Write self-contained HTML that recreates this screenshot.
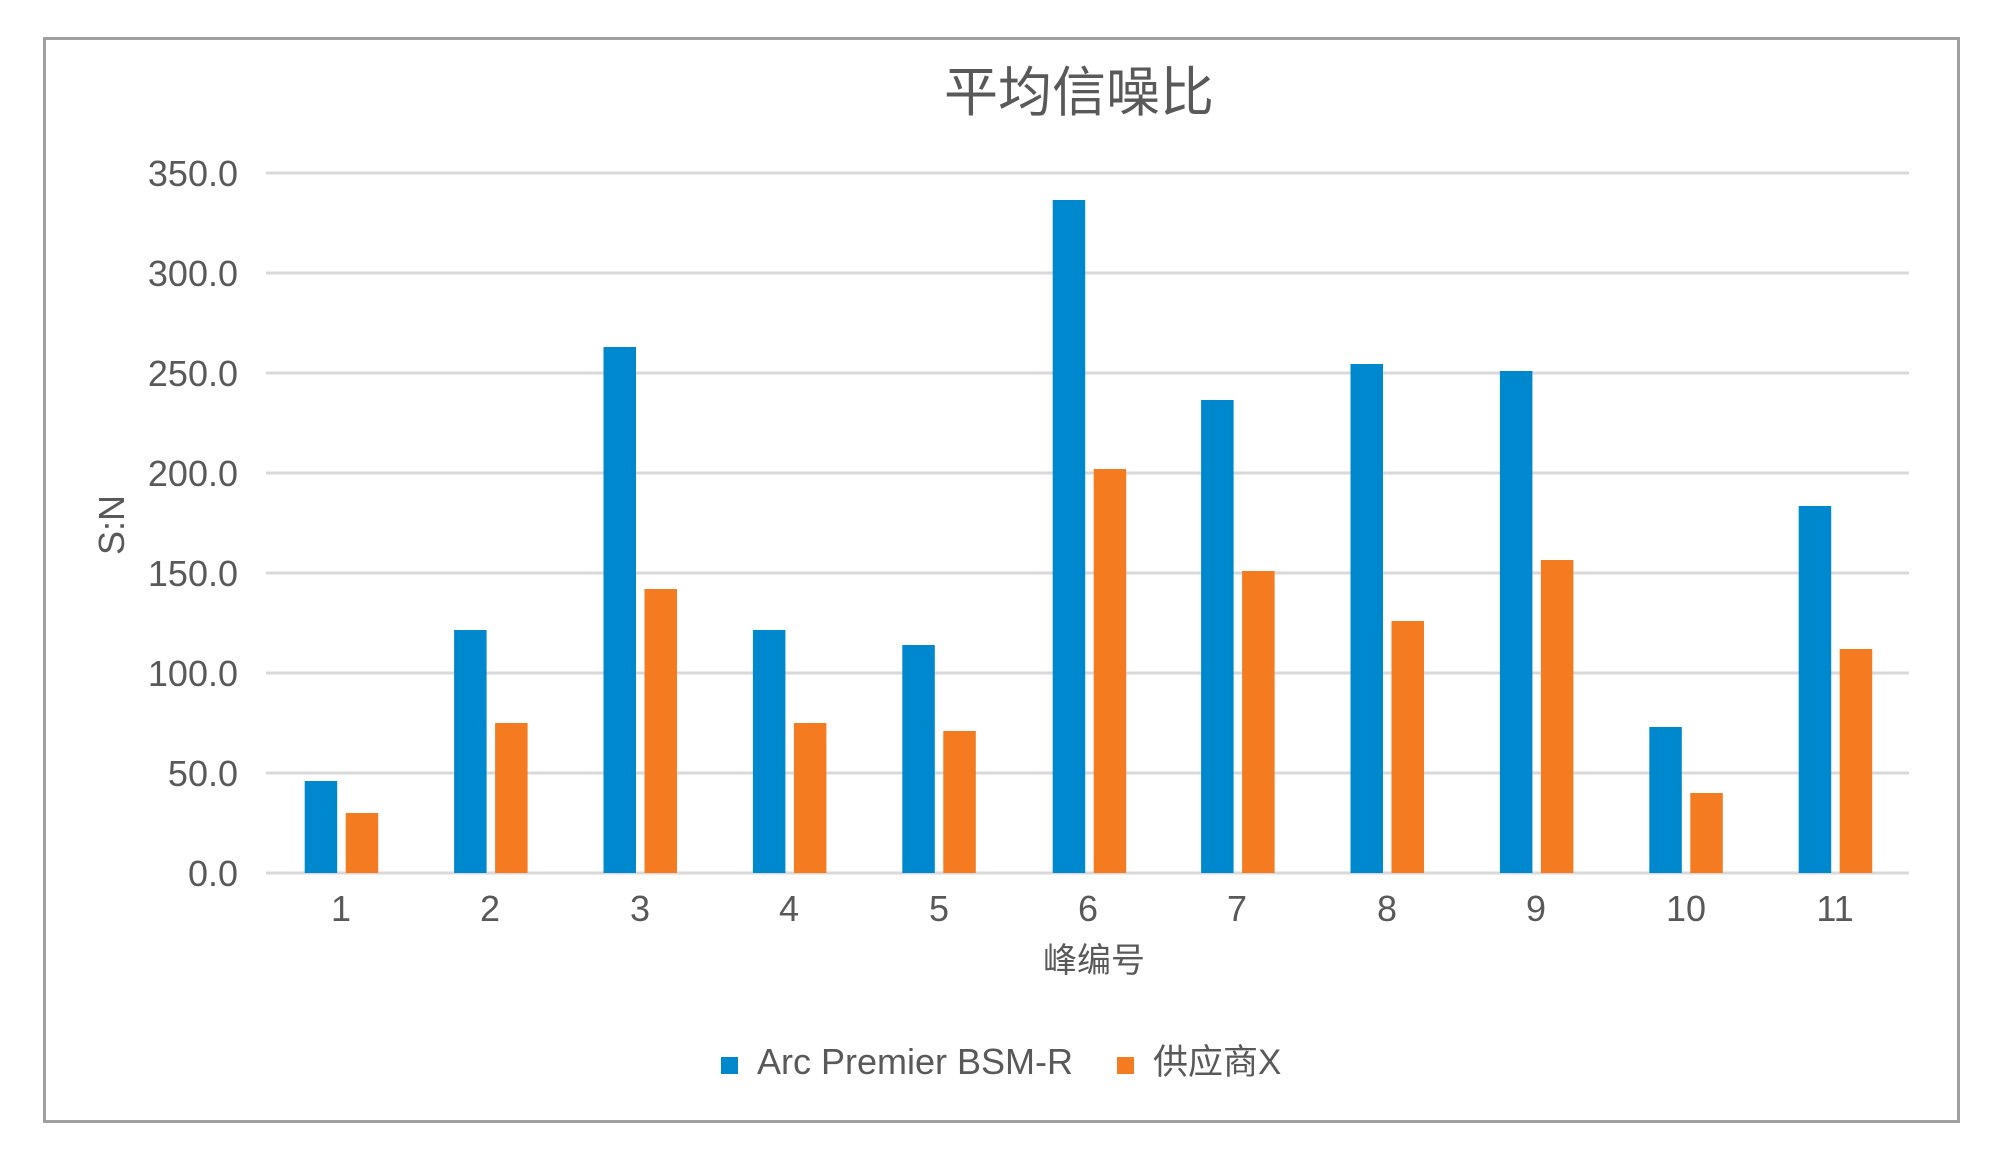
<!DOCTYPE html>
<html><head><meta charset="utf-8"><style>
html,body{margin:0;padding:0;background:#fff;}
svg{display:block;}
text{font-family:"Liberation Sans","Noto Sans CJK SC",sans-serif;fill:#595959;}
</style></head><body>
<svg width="2000" height="1174" viewBox="0 0 2000 1174" xmlns="http://www.w3.org/2000/svg">
<rect x="0" y="0" width="2000" height="1174" fill="#fff"/>
<rect x="44.5" y="38.5" width="1914" height="1083" fill="none" stroke="#A0A0A0" stroke-width="3"/>
<text x="1079" y="111" font-size="54" text-anchor="middle">平均信噪比</text>
<g stroke="#D9D9D9" stroke-width="3">
<line x1="266" x2="1909" y1="173" y2="173"/>
<line x1="266" x2="1909" y1="273" y2="273"/>
<line x1="266" x2="1909" y1="373" y2="373"/>
<line x1="266" x2="1909" y1="473" y2="473"/>
<line x1="266" x2="1909" y1="573" y2="573"/>
<line x1="266" x2="1909" y1="673" y2="673"/>
<line x1="266" x2="1909" y1="773" y2="773"/>
<line x1="266" x2="1909" y1="873" y2="873"/>
</g>
<g font-size="36" text-anchor="end">
<text x="238" y="186">350.0</text>
<text x="238" y="286">300.0</text>
<text x="238" y="386">250.0</text>
<text x="238" y="486">200.0</text>
<text x="238" y="586">150.0</text>
<text x="238" y="686">100.0</text>
<text x="238" y="786">50.0</text>
<text x="238" y="886">0.0</text>
</g>
<text transform="translate(124,525) rotate(-90)" font-size="36" text-anchor="middle">S:N</text>
<text x="1094" y="972" font-size="34" text-anchor="middle">峰编号</text>
<rect x="721" y="1057" width="17" height="17" fill="#0088CE"/>
<text x="757" y="1074" font-size="36">Arc Premier BSM-R</text>
<rect x="1117" y="1057" width="17" height="17" fill="#F47B20"/>
<text x="1153" y="1074" font-size="35">供应商X</text>
<g>
<rect x="304.7" y="781" width="32.5" height="92" fill="#0088CE"/><rect x="345.7" y="813" width="32.5" height="60" fill="#F47B20"/>
<rect x="454.1" y="630" width="32.5" height="243" fill="#0088CE"/><rect x="495.1" y="723" width="32.5" height="150" fill="#F47B20"/>
<rect x="603.5" y="347" width="32.5" height="526" fill="#0088CE"/><rect x="644.5" y="589" width="32.5" height="284" fill="#F47B20"/>
<rect x="752.9" y="630" width="32.5" height="243" fill="#0088CE"/><rect x="793.9" y="723" width="32.5" height="150" fill="#F47B20"/>
<rect x="902.3" y="645" width="32.5" height="228" fill="#0088CE"/><rect x="943.3" y="731" width="32.5" height="142" fill="#F47B20"/>
<rect x="1052.7" y="200" width="32.5" height="673" fill="#0088CE"/><rect x="1093.7" y="469" width="32.5" height="404" fill="#F47B20"/>
<rect x="1201.1" y="400" width="32.5" height="473" fill="#0088CE"/><rect x="1242.1" y="571" width="32.5" height="302" fill="#F47B20"/>
<rect x="1350.5" y="364" width="32.5" height="509" fill="#0088CE"/><rect x="1391.5" y="621" width="32.5" height="252" fill="#F47B20"/>
<rect x="1499.9" y="371" width="32.5" height="502" fill="#0088CE"/><rect x="1540.9" y="560" width="32.5" height="313" fill="#F47B20"/>
<rect x="1649.3" y="727" width="32.5" height="146" fill="#0088CE"/><rect x="1690.3" y="793" width="32.5" height="80" fill="#F47B20"/>
<rect x="1798.7" y="506" width="32.5" height="367" fill="#0088CE"/><rect x="1839.7" y="649" width="32.5" height="224" fill="#F47B20"/>
</g>
<g font-size="36" text-anchor="middle">
<text x="341" y="921">1</text><text x="490" y="921">2</text><text x="640" y="921">3</text>
<text x="789" y="921">4</text><text x="939" y="921">5</text><text x="1088" y="921">6</text>
<text x="1237" y="921">7</text><text x="1387" y="921">8</text><text x="1536" y="921">9</text>
<text x="1686" y="921">10</text><text x="1835" y="921">11</text>
</g>
</svg>
</body></html>
